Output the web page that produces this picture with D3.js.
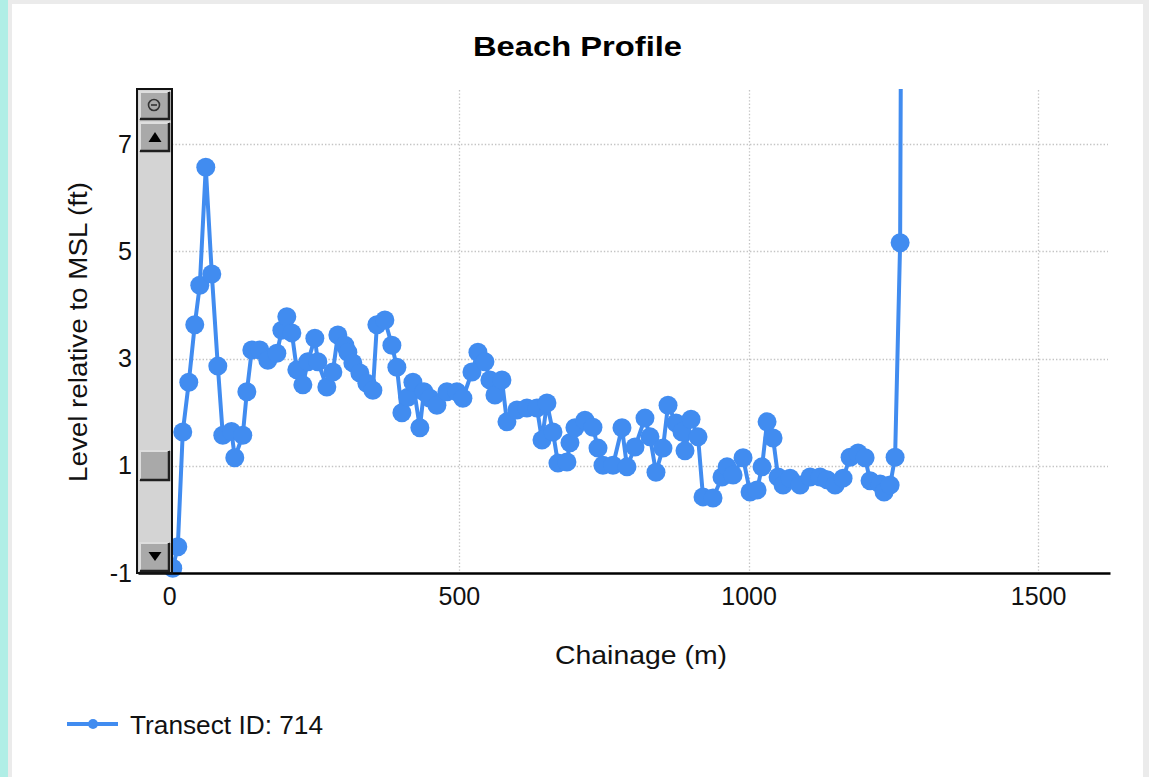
<!DOCTYPE html>
<html>
<head>
<meta charset="utf-8">
<script src="https://cdn.jsdelivr.net/npm/d3@7"></script>
<style>
  html, body { margin: 0; padding: 0; background: #fff; }
  svg { display: block; font-family: "Liberation Sans", Arial, sans-serif; }
</style>
</head>
<body>
<svg id="chart" width="1149" height="777"></svg>
<script>
// Transect 714: chainage along the profile (m) and surveyed level (ft, relative to MSL)
const chainage = [
  6.0, 14.7, 23.3, 33.7, 44.0, 52.7, 63.0, 73.4, 83.8, 92.4,
  107.4, 113.1, 126.9, 133.9, 142.5, 156.3, 170.1, 185.7, 194.3, 202.9,
  211.6, 220.2, 230.6, 239.2, 251.3, 256.5, 272.0, 282.4, 291.0, 303.1,
  308.3, 316.9, 329.0, 341.1, 351.5, 358.4, 372.2, 384.3, 392.9, 401.6,
  411.9, 420.6, 432.6, 439.6, 449.9, 462.0, 479.3, 496.5, 506.9, 522.5,
  532.8, 544.9, 553.5, 562.2, 574.3, 582.9, 600.2, 617.4, 634.7, 643.4,
  652.0, 662.4, 671.0, 686.5, 691.7, 700.3, 717.6, 731.4, 740.1, 748.7,
  766.0, 781.5, 790.2, 804.0, 821.2, 829.9, 840.2, 852.3, 861.0, 874.8,
  885.1, 890.3, 900.7, 912.8, 921.4, 938.7, 954.2, 962.9, 973.3, 990.5,
  1002.6, 1014.7, 1023.3, 1032.0, 1042.3, 1051.0, 1059.6, 1071.7, 1089.0, 1106.2,
  1123.5, 1135.6, 1149.4, 1163.2, 1175.3, 1189.1, 1201.2, 1209.8, 1227.1, 1234.0,
  1244.4, 1253.0, 1261.7, 1264.0
];
const level = [
  -0.91, -0.51, 1.63, 2.56, 3.63, 4.37, 6.57, 4.58, 2.86, 1.57,
  1.64, 1.15, 1.57, 2.38, 3.16, 3.16, 2.97, 3.10, 3.53, 3.78,
  3.48, 2.79, 2.51, 2.94, 3.38, 2.94, 2.47, 2.75, 3.44, 3.25,
  3.12, 2.92, 2.73, 2.54, 2.41, 3.63, 3.72, 3.25, 2.84, 1.99,
  2.28, 2.56, 1.71, 2.38, 2.26, 2.13, 2.38, 2.38, 2.26, 2.75,
  3.12, 2.94, 2.60, 2.32, 2.60, 1.82, 2.04, 2.08, 2.08, 1.48,
  2.17, 1.63, 1.05, 1.07, 1.43, 1.71, 1.85, 1.72, 1.33, 1.01,
  1.01, 1.71, 0.98, 1.35, 1.89, 1.54, 0.88, 1.33, 2.13, 1.80,
  1.63, 1.28, 1.87, 1.54, 0.42, 0.40, 0.79, 0.98, 0.83, 1.15,
  0.51, 0.55, 0.98, 1.82, 1.52, 0.79, 0.64, 0.77, 0.64, 0.79,
  0.79, 0.74, 0.64, 0.77, 1.16, 1.24, 1.15, 0.72, 0.66, 0.51,
  0.64, 1.16, 5.16, 11.5
];

const xTicks = [0, 500, 1000, 1500];
const yTicks = [-1, 1, 3, 5, 7];
const title = "Beach Profile";
const xTitle = "Chainage (m)";
const yTitle = "Level relative to MSL (ft)";
const seriesName = "Transect ID: 714";

const seriesColor = "#418CF0";
const svg = d3.select("#chart");

// Window frame: teal edge on the left, thin grey borders
svg.append("rect").attr("x", 0).attr("y", 0).attr("width", 1149).attr("height", 777).attr("fill", "#ebebeb");
svg.append("rect").attr("x", 0).attr("y", 0).attr("width", 8).attr("height", 777).attr("fill", "#b0eee6");
svg.append("rect").attr("x", 12).attr("y", 4).attr("width", 1131).attr("height", 773).attr("fill", "#ffffff");

// Plot area
const plot = { left: 138, right: 1110, top: 89, bottom: 573 };
const x = d3.scaleLinear().domain([-54, 1624]).range([plot.left, plot.right]);
const y = d3.scaleLinear().domain([-1, 8.03]).range([plot.bottom, plot.top]);
const plainNumber = d => String(d);

// Dotted grid
const grid = svg.append("g").attr("stroke", "#c4c4c4").attr("stroke-width", 1.3)
  .attr("stroke-dasharray", "1.4,2");
grid.selectAll("line.h").data(yTicks.filter(v => v > -1)).join("line")
  .attr("class", "h")
  .attr("x1", plot.left).attr("x2", plot.right - 2)
  .attr("y1", d => Math.round(y(d)) + 0.5).attr("y2", d => Math.round(y(d)) + 0.5);
grid.selectAll("line.v").data(xTicks.filter(v => v > 0)).join("line")
  .attr("class", "v")
  .attr("x1", d => Math.round(x(d)) + 0.5).attr("x2", d => Math.round(x(d)) + 0.5)
  .attr("y1", plot.top + 1).attr("y2", plot.bottom);

// Series
svg.append("defs").append("clipPath").attr("id", "plotClip")
  .append("rect").attr("x", plot.left).attr("y", plot.top)
  .attr("width", plot.right - plot.left).attr("height", plot.bottom - plot.top + 12);

const pts = chainage.map((c, i) => [c, level[i]]);
const series = svg.append("g").attr("clip-path", "url(#plotClip)");
series.append("path")
  .datum(pts)
  .attr("fill", "none")
  .attr("stroke", seriesColor)
  .attr("stroke-width", 4)
  .attr("stroke-linejoin", "round")
  .attr("d", d3.line().x(d => x(d[0])).y(d => y(d[1])));
series.selectAll("circle").data(pts).join("circle")
  .attr("cx", d => x(d[0])).attr("cy", d => y(d[1]))
  .attr("r", 9.5)
  .attr("fill", seriesColor);

// X axis
const xAxis = svg.append("g")
  .attr("transform", `translate(0,${plot.bottom})`)
  .call(d3.axisBottom(x).tickValues(xTicks).tickSize(0).tickPadding(14).tickFormat(plainNumber));
xAxis.select(".domain").attr("stroke", "#000").attr("stroke-width", 2.4);
xAxis.selectAll("text").attr("font-size", 25).attr("fill", "#111")
  .attr("font-family", "Liberation Sans, Arial, sans-serif");

// Y axis labels
const yAxis = svg.append("g")
  .attr("transform", `translate(${plot.left - 1},0)`)
  .call(d3.axisLeft(y).tickValues(yTicks).tickSize(0).tickPadding(5).tickFormat(plainNumber));
yAxis.select(".domain").remove();
yAxis.selectAll("text").attr("font-size", 25).attr("fill", "#111")
  .attr("font-family", "Liberation Sans, Arial, sans-serif");

// Vertical scroll bar drawn over the left side of the plot area
const sb = svg.append("g");
const sbX = 137, sbW = 35;
sb.append("rect").attr("x", sbX).attr("y", plot.top).attr("width", sbW).attr("height", plot.bottom - plot.top)
  .attr("fill", "#d4d4d4").attr("stroke", "#111").attr("stroke-width", 2);

function bevelButton(y0, h) {
  const bx = sbX + 2, bw = sbW - 4;
  sb.append("rect").attr("x", bx).attr("y", y0).attr("width", bw).attr("height", h).attr("fill", "#a9a9a9");
  sb.append("path").attr("d", `M${bx + 1},${y0 + h - 1} V${y0 + 1} H${bx + bw - 1}`)
    .attr("fill", "none").attr("stroke", "#dedede").attr("stroke-width", 2);
  sb.append("path").attr("d", `M${bx + 1},${y0 + h - 1} H${bx + bw - 1} V${y0 + 1}`)
    .attr("fill", "none").attr("stroke", "#202020").attr("stroke-width", 2.5);
}
// zoom-reset button
bevelButton(91, 29);
sb.append("circle").attr("cx", 154).attr("cy", 105).attr("r", 5.5)
  .attr("fill", "none").attr("stroke", "#333").attr("stroke-width", 1.6);
sb.append("line").attr("x1", 151).attr("x2", 157).attr("y1", 105).attr("y2", 105)
  .attr("stroke", "#333").attr("stroke-width", 1.6);
// up arrow
bevelButton(122, 30);
sb.append("path").attr("d", "M155,132 L148.5,142 L161.5,142 Z").attr("fill", "#000");
// thumb
bevelButton(450, 31);
// down arrow
bevelButton(542, 30);
sb.append("path").attr("d", "M148.5,552 L161.5,552 L155,561 Z").attr("fill", "#000");

// Titles
svg.append("text").attr("x", 577.5).attr("y", 56).attr("text-anchor", "middle")
  .attr("font-size", 28).attr("font-weight", "bold").attr("fill", "#000")
  .attr("textLength", 209).attr("lengthAdjust", "spacingAndGlyphs")
  .text(title);
svg.append("text").attr("x", 641).attr("y", 664).attr("text-anchor", "middle")
  .attr("font-size", 25).attr("fill", "#111")
  .attr("textLength", 172).attr("lengthAdjust", "spacingAndGlyphs")
  .text(xTitle);
svg.append("text").attr("transform", "translate(87,332) rotate(-90)").attr("text-anchor", "middle")
  .attr("font-size", 25).attr("fill", "#111")
  .attr("textLength", 300).attr("lengthAdjust", "spacingAndGlyphs")
  .text(yTitle);

// Legend
const lg = svg.append("g");
lg.append("line").attr("x1", 67).attr("x2", 118).attr("y1", 724).attr("y2", 724)
  .attr("stroke", seriesColor).attr("stroke-width", 4);
lg.append("circle").attr("cx", 93).attr("cy", 724).attr("r", 5).attr("fill", seriesColor);
lg.append("text").attr("x", 130).attr("y", 734)
  .attr("font-size", 25).attr("fill", "#111")
  .attr("textLength", 193).attr("lengthAdjust", "spacingAndGlyphs")
  .text(seriesName);
</script>
</body>
</html>
